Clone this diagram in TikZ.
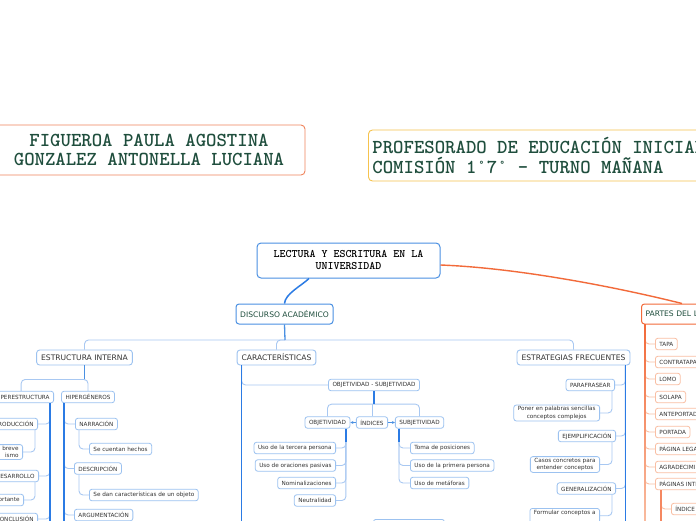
\documentclass[tikz,border=0pt]{standalone}
\usepackage{fontspec}
\setmainfont{DejaVu Sans}
\newfontfamily\monofam{lmmonolt10-bold.otf}
\usepackage{xcolor}
\usetikzlibrary{positioning,arrows.meta,calc}

\definecolor{mapgreen}{HTML}{1F4E3D}
\definecolor{mapblue}{HTML}{2B7BE4}
\definecolor{boxblue}{HTML}{4A90E2}
\definecolor{leafblue}{HTML}{9CC2F0}
\definecolor{twigblue}{HTML}{A8C8F2}
\definecolor{maporange}{HTML}{F26A3A}
\definecolor{lightorange}{HTML}{F9BFA4}
\definecolor{nameorange}{HTML}{F0845C}
\definecolor{profyellow}{HTML}{F6C34E}
\definecolor{labelgray}{HTML}{333333}

\begin{document}
\begin{tikzpicture}[x=1pt,y=-1pt,
  titlebox/.style={draw, rounded corners=4pt, line width=0.9pt, fill=white, text=mapgreen,
    font=\monofam\fontsize{19.8}{19.5}\selectfont, inner sep=0pt},
  rootbox/.style={draw=boxblue, rounded corners=4pt, line width=1pt, fill=white, align=center,
    font=\monofam\fontsize{11.4}{12}\selectfont, minimum width=183pt, minimum height=35pt},
  mainbox/.style={draw=#1, rounded corners=3pt, line width=1pt, fill=white, text=mapgreen,
    font=\fontsize{7.6}{9}\selectfont, minimum height=20pt, inner xsep=4pt, inner ysep=0pt},
  topicbox/.style={draw=leafblue, rounded corners=3pt, line width=0.9pt, fill=white, text=labelgray,
    font=\fontsize{7.6}{9}\selectfont, minimum height=15pt, inner xsep=4.5pt, inner ysep=0pt},
  leafbox/.style={draw=leafblue, rounded corners=2.5pt, line width=0.8pt, fill=white, text=labelgray,
    font=\fontsize{5.7}{7.4}\selectfont, minimum height=11.5pt, inner xsep=4pt, inner ysep=1.5pt, align=center},
  partbox/.style={leafbox, draw=lightorange},
  trunk/.style={draw=mapblue, line width=1.5pt},
  twig/.style={draw=twigblue, line width=0.9pt, rounded corners=4pt},
  ptwig/.style={draw=lightorange, line width=0.9pt, rounded corners=4pt},
  pointer/.style={draw=boxblue, line width=0.8pt, -{Stealth[length=3pt,width=3pt]}}]

  % Frame
  \useasboundingbox (0,0) rectangle (696,520);
  \fill[white] (0,0) rectangle (696,520);
  \clip (0,0) rectangle (696,520);
  \coordinate (bottomEdge) at (0,530);

  % Titles
  \node[titlebox, draw=nameorange, minimum width=312pt, minimum height=50pt, align=center] (names) at (149,150)
    {FIGUEROA PAULA AGOSTINA\\GONZALEZ ANTONELLA LUCIANA};
  \node[titlebox, draw=profyellow, anchor=west, minimum height=51pt, align=left, inner xsep=4pt] (prof) at (368,155.5)
    {PROFESORADO DE EDUCACIÓN INICIAL\\COMISIÓN 1°7° - TURNO MAÑANA};

  % Central topic and main branches
  \node[rootbox] (root) at (348.5,260.5) {LECTURA Y ESCRITURA EN LA\\UNIVERSIDAD};
  \node[mainbox=boxblue, minimum width=97pt] (disc) at (284.5,314) {DISCURSO ACADÉMICO};
  \node[mainbox=maporange, anchor=west, text width=120pt, align=left] (partes) at (641,314) {PARTES DEL LIBRO};

  \node[topicbox] (estr) at (84.5,357.5) {ESTRUCTURA INTERNA};
  \node[topicbox] (carac) at (276.5,357.5) {CARACTERÍSTICAS};
  \node[topicbox] (estrat) at (573.5,357.5) {ESTRATEGIAS FRECUENTES};

  % Estructura interna
  \node[leafbox, anchor=east] (sup) at (54,397) {SUPERESTRUCTURA};
  \node[leafbox] (hiper) at (88,397) {HIPERGÉNEROS};
  \node[leafbox, anchor=east] (intro) at (38,424) {INTRODUCCIÓN};
  \node[leafbox, anchor=east, text width=52pt, align=right] (introTxt) at (23,452) {breve\\ismo};
  \node[leafbox, anchor=east] (desa) at (39,476) {DESARROLLO};
  \node[leafbox, anchor=east, text width=40pt, align=right] (desaTxt) at (24,500) {ortante};
  \node[leafbox, anchor=east] (concl) at (38,519) {CONCLUSIÓN};
  \node[leafbox, anchor=west] (narr) at (75,424) {NARRACIÓN};
  \node[leafbox, anchor=west] (narrTxt) at (89,449) {Se cuentan hechos};
  \node[leafbox, anchor=west] (desc) at (74,468.5) {DESCRIPCIÓN};
  \node[leafbox, anchor=west] (descTxt) at (89,495) {Se dan características de un objeto};
  \node[leafbox, anchor=west] (argu) at (74,515) {ARGUMENTACIÓN};

  % Caracteristicas
  \node[leafbox] (objsub) at (374,385) {OBJETIVIDAD - SUBJETIVIDAD};
  \node[leafbox] (obj) at (327.5,422.5) {OBJETIVIDAD};
  \node[leafbox] (indi) at (372,422.5) {ÍNDICES};
  \node[leafbox] (subj) at (419.5,422.5) {SUBJETIVIDAD};
  \node[leafbox, anchor=east] (tercera) at (336,448) {Uso de la tercera persona};
  \node[leafbox, anchor=east] (pasivas) at (336,465.5) {Uso de oraciones pasivas};
  \node[leafbox, anchor=east] (nomin) at (336,483) {Nominalizaciones};
  \node[leafbox, anchor=east] (neutr) at (336,500.5) {Neutralidad};
  \node[leafbox, anchor=west] (toma) at (410,448) {Toma de posiciones};
  \node[leafbox, anchor=west] (primera) at (410,465.5) {Uso de la primera persona};
  \node[leafbox, anchor=west] (metaf) at (410,483) {Uso de metáforas};
  \node[leafbox, anchor=north west, minimum width=71pt, minimum height=14pt] (nextbox) at (373,519) {};

  % Estrategias frecuentes
  \node[leafbox, anchor=east] (para) at (615,385) {PARAFRASEAR};
  \node[leafbox, anchor=east] (paraTxt) at (600,413) {Poner en palabras sencillas\\conceptos complejos};
  \node[leafbox, anchor=east] (ejem) at (616,436) {EJEMPLIFICACIÓN};
  \node[leafbox, anchor=east] (ejemTxt) at (600,464.5) {Casos concretos para\\entender conceptos};
  \node[leafbox, anchor=east] (gene) at (616,488.5) {GENERALIZACIÓN};
  \node[leafbox, anchor=north east] (geneTxt) at (600,508) {Formular conceptos a\\\mbox{}};

  % Partes del libro
  \node[partbox, anchor=west] (tapa) at (655,344) {TAPA};
  \node[partbox, anchor=west] (contra) at (655,362) {CONTRATAPA};
  \node[partbox, anchor=west] (lomo) at (655,379) {LOMO};
  \node[partbox, anchor=west] (solapa) at (655,397) {SOLAPA};
  \node[partbox, anchor=west] (antep) at (655,414) {ANTEPORTADA};
  \node[partbox, anchor=west] (portada) at (655,432) {PORTADA};
  \node[partbox, anchor=west] (legal) at (655,449) {PÁGINA LEGAL};
  \node[partbox, anchor=west] (agrad) at (655,467) {AGRADECIMIENTOS};
  \node[partbox, anchor=west] (pint) at (655,484) {PÁGINAS INTRODUCTORIAS};
  \node[partbox, anchor=west] (indice) at (671,509) {ÍNDICE};

  % Junctions and trunk tops
  \coordinate (hubA) at (285,340);
  \coordinate (hubB) at ([yshift=-14pt]estr.south);
  \coordinate (hubC) at ([yshift=-13pt]objsub.south);
  \coordinate (supTop) at ([xshift=-4pt]sup.south east);
  \coordinate (hiperTop) at ([xshift=3pt]hiper.south west);
  \coordinate (caracTop) at ([xshift=5pt]carac.south west);
  \coordinate (objTop) at ([xshift=-4.5pt]obj.south east);
  \coordinate (subjTop) at ([xshift=4pt]subj.south west);
  \coordinate (estratTop) at ([xshift=-5pt]estrat.south east);
  \coordinate (partTop) at ([xshift=4pt]partes.south west);
  \coordinate (pintTop) at ([xshift=6pt]pint.south west);
  \coordinate (partEnd) at (partTop |- bottomEdge);
  \coordinate (pintEnd) at (pintTop |- bottomEdge);

  % Curved links from the centre
  \coordinate (rootFoot) at ([xshift=-39.5pt]root.south);
  \coordinate (rootSide) at ([yshift=-4.5pt]root.east);
  \coordinate (partesHead) at ([xshift=41pt]partes.north west);
  \draw[trunk] (rootFoot) .. controls (301,286) and (285,294) .. (disc.north);
  \draw[maporange, line width=1.4pt] (rootSide) .. controls (520,268) and (620,288) .. (partesHead);

  % Brackets
  \draw[twig] (estr.north) |- (hubA);
  \draw[twig] (carac.north) |- (hubA);
  \draw[twig] (estrat.north) |- (hubA);
  \draw[boxblue, line width=1.3pt] (disc.south) -- (hubA);
  \draw[twig] (sup.north) |- (hubB);
  \draw[twig] (hiper.north) |- (hubB);
  \draw[boxblue, line width=1.2pt] (estr.south) -- (hubB);
  \draw[twig] (obj.north) |- (hubC);
  \draw[twig] (subj.north) |- (hubC);
  \draw[twig] (indi.north) -- (indi.north |- hubC);
  \draw[mapblue, line width=1.2pt] (objsub.south) -- (hubC);
  \draw[pointer] (indi) -- (obj);
  \draw[pointer] (indi) -- (subj);

  % Hooks to the trunks
  \foreach \kid in {intro,desa,concl}
    \draw[twig] (\kid.east) -| (supTop);
  \foreach \kid in {narr,desc,argu}
    \draw[twig] (\kid.west) -| (hiperTop);
  \draw[twig] (objsub.west) -| (caracTop);
  \foreach \kid in {tercera,pasivas,nomin,neutr}
    \draw[twig] (\kid.east) -| (objTop);
  \foreach \kid in {toma,primera,metaf}
    \draw[twig] (\kid.west) -| (subjTop);
  \foreach \kid in {para,ejem,gene}
    \draw[twig] (\kid.east) -| (estratTop);
  \foreach \kid in {tapa,contra,lomo,solapa,antep,portada,legal,agrad,pint}
    \draw[ptwig] (\kid.west) -| (partTop);
  \draw[ptwig] (indice.west) -| (pintTop);

  % Details under their parents
  \draw[twig] ([xshift=-3pt]intro.south east) |- (introTxt.east);
  \draw[twig] ([xshift=-4pt]desa.south east) |- (desaTxt.east);
  \draw[twig] ([xshift=4pt]narr.south west) |- (narrTxt.west);
  \draw[twig] ([xshift=5pt]desc.south west) |- (descTxt.west);
  \draw[twig] ([xshift=-3pt]para.south east) |- (paraTxt.east);
  \draw[twig] ([xshift=-4pt]ejem.south east) |- (ejemTxt.east);
  \draw[twig] ([xshift=-4pt]gene.south east) |- (geneTxt.east);

  % Trunks
  \draw[trunk] (supTop) -- (supTop |- bottomEdge);
  \draw[trunk] (hiperTop) -- (hiperTop |- bottomEdge);
  \draw[trunk] (caracTop) -- (caracTop |- bottomEdge);
  \draw[trunk] (estratTop) -- (estratTop |- bottomEdge);
  \draw[trunk] (objTop) -- (objTop |- tercera.north);
  \draw[trunk] (subjTop) -- (subjTop |- toma.north);
  \shade[top color=maporange, middle color=maporange!85!white, bottom color=lightorange]
    ([xshift=-0.8pt]partTop) rectangle ([xshift=0.8pt]partEnd);
  \draw[maporange!80!white, line width=1.3pt] (pintTop) -- (pintEnd);
\end{tikzpicture}
\end{document}
